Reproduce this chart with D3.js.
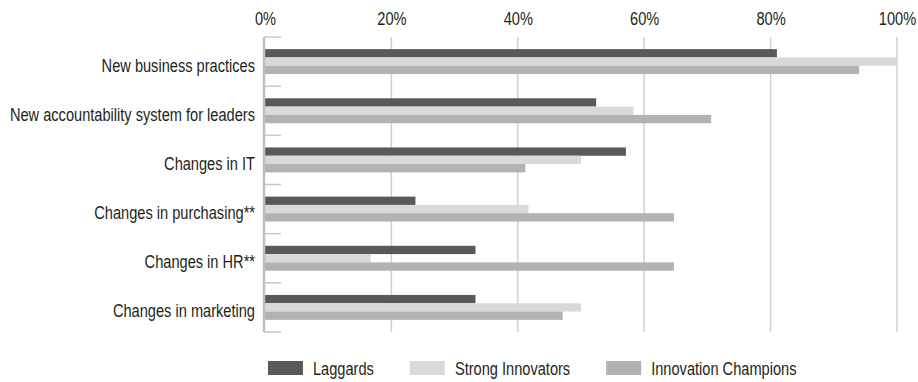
<!DOCTYPE html>
<html>
<head>
<meta charset="utf-8">
<script src="https://cdn.jsdelivr.net/npm/d3@7"></script>
<style>
  html, body { margin: 0; padding: 0; background: #ffffff; }
  svg { display: block; font-family: "Liberation Sans", Arial, sans-serif; }
</style>
</head>
<body>
<svg id="chart" width="918" height="382"></svg>
<script>
const categories = [
  "New business practices",
  "New accountability system for leaders",
  "Changes in IT",
  "Changes in purchasing**",
  "Changes in HR**",
  "Changes in marketing"
];
const seriesNames = ["Laggards", "Strong Innovators", "Innovation Champions"];
const laggards = [0.81, 0.524, 0.571, 0.238, 0.333, 0.333];
const strongInnovators = [1.00, 0.583, 0.50, 0.417, 0.167, 0.50];
const innovationChampions = [0.94, 0.706, 0.412, 0.647, 0.647, 0.471];
const xTicks = [0, 0.2, 0.4, 0.6, 0.8, 1.0];
const colors = ["#595959", "#d9d9d9", "#b2b2b2"];

(function () {
const seriesValues = [laggards, strongInnovators, innovationChampions];
const FS = 18.5;      // font size
const SX = 0.79;      // horizontal condensing factor

const svg = d3.select("#chart");
const pLeft = 265, pRight = 897, pTop = 37, pBottom = 332;

const x = d3.scaleLinear().domain([0, 1]).range([pLeft, pRight]);
const yCat = d3.scaleBand().domain(categories).range([pTop, pBottom]);
const ySub = d3.scaleBand().domain(seriesNames).range([0, yCat.bandwidth()]).paddingOuter(1.46);

// gridlines
svg.append("g").selectAll("line").data(xTicks.filter(d => d > 0)).join("line")
  .attr("x1", d => x(d)).attr("x2", d => x(d))
  .attr("y1", pTop).attr("y2", pBottom)
  .attr("stroke", "#d0d0d0").attr("stroke-width", 1.5);

// top axis labels
const xAxis = d3.axisTop(x).tickValues(xTicks).tickFormat(d3.format(".0%")).tickSize(0).tickPadding(0);
const gx = svg.append("g").attr("transform", `translate(0,${pTop - 12})`).call(xAxis);
gx.select(".domain").remove();
gx.attr("font-family", null).attr("font-size", null);
gx.selectAll("text").attr("font-size", FS).attr("fill", "#231f20").attr("dy", 0)
  .attr("y", 0).attr("transform", `scale(${SX},1)`);

// bars
const rows = [];
categories.forEach((c, i) => {
  seriesNames.forEach((s, j) => rows.push({ c, s, v: seriesValues[j][i], color: colors[j] }));
});
svg.append("g").selectAll("rect").data(rows).join("rect")
  .attr("x", x(0))
  .attr("y", d => yCat(d.c) + ySub(d.s))
  .attr("width", d => x(d.v) - x(0))
  .attr("height", ySub.bandwidth())
  .attr("fill", d => d.color);

// left spine and category boundary ticks
const boundaries = categories.map(c => yCat(c)).concat([pBottom]);
svg.append("g").selectAll("line").data(boundaries).join("line")
  .attr("x1", pLeft - 1).attr("x2", pLeft + 16)
  .attr("y1", d => d).attr("y2", d => d)
  .attr("stroke", "#c8c8c8").attr("stroke-width", 1.5);
svg.append("line")
  .attr("x1", pLeft - 1).attr("x2", pLeft - 1)
  .attr("y1", pTop).attr("y2", pBottom)
  .attr("stroke", "#bfbfbf").attr("stroke-width", 2.5);

// category labels
svg.append("g").selectAll("text").data(categories).join("text")
  .attr("transform", d => `translate(${pLeft - 10},${yCat(d) + yCat.bandwidth() / 2 + 10}) scale(${SX},1)`)
  .attr("text-anchor", "end")
  .attr("font-size", FS)
  .attr("fill", "#231f20")
  .text(d => d);

// legend
const legend = svg.append("g");
let lx = 268;
seriesNames.forEach((s, j) => {
  legend.append("rect").attr("x", lx).attr("y", 361).attr("width", 35).attr("height", 14).attr("fill", colors[j]);
  const t = legend.append("text")
    .attr("transform", `translate(${lx + 45},375) scale(${SX},1)`)
    .attr("font-size", FS).attr("fill", "#231f20").text(s);
  lx = lx + 45 + t.node().getComputedTextLength() * SX + 36;
});
})();
</script>
</body>
</html>
